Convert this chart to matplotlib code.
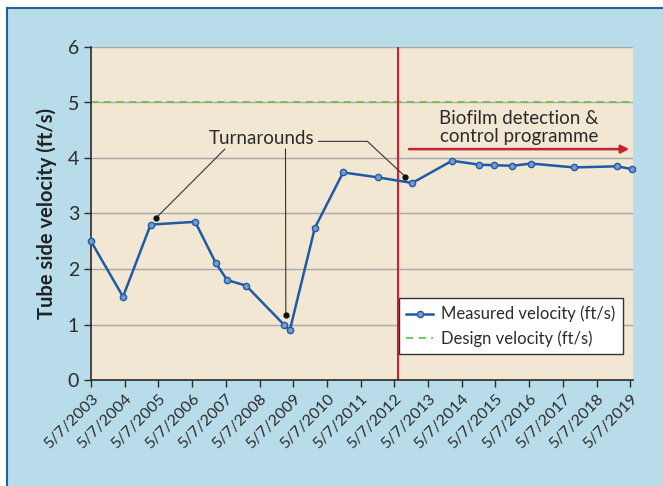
import matplotlib
matplotlib.use("Agg")
import matplotlib.pyplot as plt
from matplotlib.patches import Rectangle
from matplotlib.lines import Line2D

plt.rcParams["font.family"] = ["Lato", "DejaVu Sans"]

# years since 5/7/2003
t = [0.0, 0.95, 1.77, 3.09, 3.71, 4.04, 4.6, 5.72, 5.9, 6.64, 7.48, 8.52,
     9.53, 10.71, 11.52, 11.95, 12.5, 13.06, 14.33, 15.6, 16.06]
vel = [2.5, 1.5, 2.8, 2.85, 2.1, 1.8, 1.7, 1.0, 0.9, 2.74, 3.74, 3.65,
       3.55, 3.95, 3.88, 3.87, 3.86, 3.9, 3.83, 3.85, 3.8]
design = 5
start_prog = 9.12
tick_labels = ["5/7/%d" % y for y in range(2003, 2020)]

bg = "#b9dcea"
fig = plt.figure(figsize=(6.63, 4.86), dpi=100, facecolor="white")
fig.patches.append(Rectangle((7 / 663, 0), 1, 1 - 8 / 486, transform=fig.transFigure,
                             facecolor=bg, edgecolor="none", zorder=-10))
fig.lines.append(Line2D([7 / 663, 1], [1 - 8 / 486] * 2, transform=fig.transFigure,
                        color="#2a5f96", lw=1.5, zorder=-9))
fig.lines.append(Line2D([7 / 663] * 2, [0, 1 - 8 / 486], transform=fig.transFigure,
                        color="#2a5f96", lw=1.5, zorder=-9))

ax = fig.add_axes([91 / 663, 1 - 380 / 486, 542 / 663, 333 / 486])
ax.set_facecolor("#f1e7d3")
ax.set_xlim(0, 16.08)
ax.set_ylim(0, 6)
ax.set_yticks(range(7))
ax.set_xticks(range(17))
ax.set_xticklabels(tick_labels, rotation=45, ha="right", rotation_mode="anchor",
                   fontsize=11.5, color="#2b2b2b")
ax.tick_params(axis="y", labelsize=14, colors="#2b2b2b", direction="out", length=5, width=1)
ax.tick_params(axis="x", direction="out", length=5, width=1, colors="#2b2b2b")
ax.yaxis.grid(True, color="#a8a8a8", lw=1)
ax.set_axisbelow(True)
for s in ["top", "right"]:
    ax.spines[s].set_visible(False)
for s in ["left", "bottom"]:
    ax.spines[s].set_color("#2b2b2b")
    ax.spines[s].set_linewidth(1.2)
ax.set_ylabel("Tube side velocity (ft/s)", fontsize=14.5, fontweight="bold", color="#222222",
              labelpad=8)

ax.axhline(design, color="#6cc24a", lw=1.3, ls=(0, (4, 3)), label="Design velocity (ft/s)")
ax.plot(t, vel, color="#1f5aa6", lw=1.8, marker="o", ms=4.5, mfc="#7d98cc", mec="#1f5aa6",
        mew=1, label="Measured velocity (ft/s)", clip_on=False, zorder=4)
ax.axvline(start_prog, color="#d0202e", lw=1.5)
ax.annotate("", xy=(16.05, 4.16), xytext=(9.35, 4.16),
            arrowprops=dict(arrowstyle="-|>", color="#c8202e", lw=1.8, mutation_scale=12))
ax.text(12.7, 4.55, "Biofilm detection &\ncontrol programme", ha="center", va="center",
        fontsize=13.5, color="#2b2b2b", linespacing=1.1)

ax.text(5.05, 4.36, "Turnarounds", ha="center", va="center", fontsize=13.5, color="#2b2b2b")
dots_x = [1.93, 5.78, 9.33]
dots_y = [2.92, 1.18, 3.66]
ax.plot(dots_x, dots_y, "o", color="#111111", ms=3.5, zorder=5)
ax.plot([3.97, dots_x[0]], [4.16, dots_y[0]], color="#333333", lw=0.8)
ax.plot([5.77, dots_x[1]], [4.16, dots_y[1]], color="#333333", lw=0.8)
ax.plot([6.75, 8.2, dots_x[2]], [4.3, 4.3, dots_y[2]], color="#333333", lw=0.8)

h, l = ax.get_legend_handles_labels()
leg = ax.legend(h[::-1], l[::-1], loc="lower right", bbox_to_anchor=(0.982, 0.078),
                borderaxespad=0, fontsize=12, fancybox=False, framealpha=1,
                edgecolor="#333333", handlelength=1.6, handletextpad=0.5,
                borderpad=0.45, labelspacing=0.45)
leg.get_frame().set_linewidth(1)
for txt in leg.get_texts():
    txt.set_color("#2b2b2b")

fig.savefig("out.png", dpi=100, facecolor=fig.get_facecolor())
